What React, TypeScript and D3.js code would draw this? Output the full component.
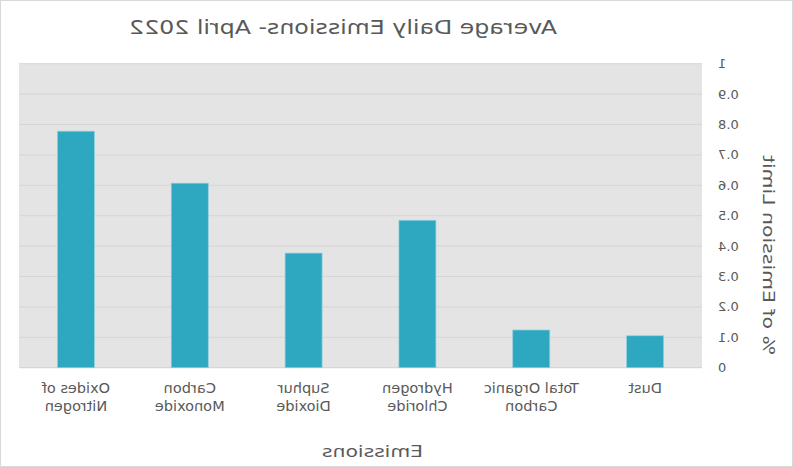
import React from "react";
import * as d3 from "d3";

const categories: string[][] = [
  ["Oxides of", "Nitrogen"],
  ["Carbon", "Monoxide"],
  ["Suphur", "Dioxide"],
  ["Hydrogen", "Chloride"],
  ["Total Organic", "Carbon"],
  ["Dust"],
];
const values: number[] = [0.778, 0.607, 0.377, 0.485, 0.124, 0.105];
const yTicks: number[] = [0, 0.1, 0.2, 0.3, 0.4, 0.5, 0.6, 0.7, 0.8, 0.9, 1];
const title = "Average Daily Emissions- April 2022";
const xTitle = "Emissions";
const yTitle = "% of Emission Limit";

const W = 793;
const H = 467;
const FONT = "'DejaVu Sans', sans-serif";
const TXT = "#595959";

export default function App() {
  const left = 91;
  const right = 774;
  const top = 63.7;
  const bottom = 367.7;
  const keys = categories.map((c) => c.join(" "));
  const x = d3
    .scaleBand<string>()
    .domain(keys)
    .range([right, left])
    .paddingInner(0.675)
    .paddingOuter(0.3375);
  const y = d3.scaleLinear().domain([0, 1]).range([bottom, top]);

  return (
    <svg
      width={W}
      height={H}
      style={{ position: "absolute", left: 0, top: 0, background: "#fff" }}
    >
      <rect x={0.5} y={0.5} width={W - 1} height={H - 1} fill="#fff" stroke="#d9d9d9" />
      <g transform={`translate(${W},0) scale(-1,1)`}>
        <rect x={left} y={top} width={right - left} height={bottom - top} fill="#e4e4e4" />
        {yTicks.map((t) => (
          <g key={t}>
            {t > 0 && (
              <line x1={left} x2={right} y1={y(t)} y2={y(t)} stroke="#d6d6d6" strokeWidth={1} />
            )}
            <text
              x={75}
              y={y(t)}
              dy="0.35em"
              textAnchor="end"
              fontFamily={FONT}
              fontSize={13}
              fill={TXT}
            >
              {t === 0 ? "0" : t === 1 ? "1" : t.toFixed(1)}
            </text>
          </g>
        ))}
        <line x1={left} x2={right} y1={bottom} y2={bottom} stroke="#d0d0d0" />
        {values.map((v, i) => (
          <rect
            key={keys[i]}
            x={x(keys[i])}
            y={y(v)}
            width={x.bandwidth()}
            height={bottom - y(v)}
            fill="#2ea8c1"
            stroke="#8fd0dd"
            strokeWidth={0.7}
          />
        ))}
        {categories.map((lines, i) => (
          <text
            key={keys[i]}
            x={(x(keys[i]) as number) + x.bandwidth() / 2}
            y={393}
            textAnchor="middle"
            fontFamily={FONT}
            fontSize={14.5}
            fill={TXT}
          >
            {lines.map((l, j) => (
              <tspan key={j} x={(x(keys[i]) as number) + x.bandwidth() / 2} dy={j === 0 ? 0 : 17.5}>
                {l}
              </tspan>
            ))}
          </text>
        ))}
        <text
          x={450}
          y={34}
          textAnchor="middle"
          fontFamily={FONT}
          fontSize={19.5}
          fill={TXT}
          textLength={428}
          lengthAdjust="spacingAndGlyphs"
        >
          {title}
        </text>
        <text
          x={420.5}
          y={457}
          textAnchor="middle"
          fontFamily={FONT}
          fontSize={16.5}
          fill={TXT}
          textLength={101}
          lengthAdjust="spacingAndGlyphs"
        >
          {xTitle}
        </text>
        <text
          transform={`translate(30,255) rotate(-90)`}
          textAnchor="middle"
          fontFamily={FONT}
          fontSize={16.5}
          fill={TXT}
          textLength={200}
          lengthAdjust="spacingAndGlyphs"
        >
          {yTitle}
        </text>
      </g>
    </svg>
  );
}
